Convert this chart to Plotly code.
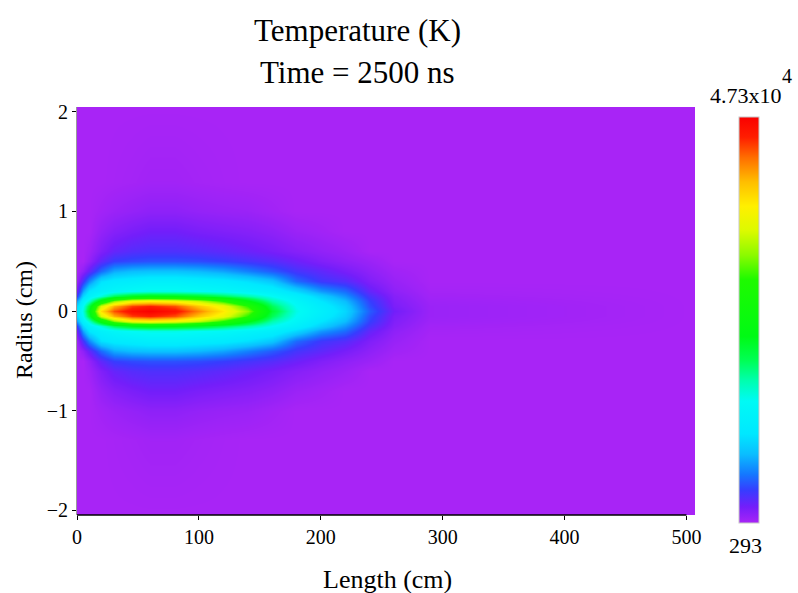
import plotly.graph_objects as go

# Axial stations along the channel (cm)
length_cm = [0, 5, 10, 20, 30, 45, 60, 80, 100, 120, 140, 160, 180, 200, 220, 240, 260, 290, 507]
# Radial stations (cm), upper half; the field is axisymmetric
radius_half_cm = [0, 0.05, 0.1, 0.15, 0.2, 0.3, 0.4, 0.5, 0.6, 0.8, 1.0, 1.3, 2.05]

# Temperature (10^3 K) at each axial station, one row per station, columns follow radius_half_cm
temp_kK = [
    [10.6, 9.7, 7.4, 4.1, 2.2, 0.77, 0.29, 0.29, 0.29, 0.29, 0.29, 0.29, 0.29],   # 0
    [15.3, 14.4, 12.5, 9.7, 7.4, 3.6, 1.2, 0.29, 0.29, 0.29, 0.29, 0.29, 0.29],   # 5
    [21.5, 20.0, 15.8, 12.5, 10.6, 6.4, 2.6, 1.0, 0.6, 0.29, 0.29, 0.29, 0.29],   # 10
    [37.9, 34.1, 23.8, 15.3, 12.5, 10.2, 5.5, 2.8, 1.7, 1.0, 0.53, 0.29, 0.29],   # 20
    [43.5, 40.3, 31.3, 19.1, 13.5, 11.2, 7.6, 4.1, 2.6, 1.5, 0.77, 0.35, 0.29],   # 30
    [46.4, 44.0, 36.0, 21.5, 14.4, 11.6, 8.3, 4.5, 3.1, 1.9, 1.0, 0.43, 0.29],    # 45
    [47.3, 45.0, 37.0, 22.4, 14.9, 12.1, 8.5, 4.7, 3.3, 2.2, 1.2, 0.53, 0.29],    # 60
    [45.9, 43.5, 36.0, 21.9, 14.9, 12.1, 8.5, 4.7, 3.3, 2.2, 1.2, 0.53, 0.29],    # 80
    [41.7, 39.3, 33.2, 21.0, 14.4, 11.6, 8.1, 4.5, 3.1, 1.9, 1.0, 0.43, 0.29],    # 100
    [37.4, 35.6, 28.5, 19.1, 13.9, 11.2, 7.4, 4.1, 2.8, 1.7, 0.86, 0.35, 0.29],   # 120
    [31.3, 28.5, 22.4, 16.8, 13.0, 10.2, 6.2, 3.6, 2.4, 1.5, 0.77, 0.29, 0.29],   # 140
    [20.5, 19.1, 16.8, 14.4, 12.1, 8.8, 5.0, 3.1, 2.0, 1.2, 0.53, 0.29, 0.29],    # 160
    [14.9, 14.4, 13.5, 12.1, 9.7, 5.5, 3.6, 2.4, 1.5, 0.77, 0.29, 0.29, 0.29],    # 180
    [12.1, 11.6, 10.6, 9.2, 7.0, 3.8, 2.8, 1.7, 1.1, 0.53, 0.29, 0.29, 0.29],     # 200
    [9.7, 9.2, 8.3, 6.9, 5.5, 3.1, 2.0, 1.2, 0.77, 0.29, 0.29, 0.29, 0.29],       # 220
    [5.0, 4.5, 4.1, 3.4, 2.6, 1.7, 1.2, 0.77, 0.29, 0.29, 0.29, 0.29, 0.29],      # 240
    [2.2, 1.9, 1.7, 1.5, 1.2, 0.86, 0.58, 0.29, 0.29, 0.29, 0.29, 0.29, 0.29],    # 260
    [0.77, 0.77, 0.67, 0.53, 0.43, 0.29, 0.29, 0.29, 0.29, 0.29, 0.29, 0.29, 0.29],  # 290
    [0.29, 0.29, 0.29, 0.29, 0.29, 0.29, 0.29, 0.29, 0.29, 0.29, 0.29, 0.29, 0.29],  # 507
]

T_MIN = 293
T_MAX = 47300

x_ticks = [0, 100, 200, 300, 400, 500]
y_ticks = [-2, -1, 0, 1, 2]

rainbow = [
    [0.00, "rgb(168,36,246)"],
    [0.04, "rgb(115,30,250)"],
    [0.08, "rgb(55,60,255)"],
    [0.12, "rgb(20,120,255)"],
    [0.17, "rgb(10,190,255)"],
    [0.22, "rgb(0,232,255)"],
    [0.30, "rgb(0,250,245)"],
    [0.35, "rgb(0,255,175)"],
    [0.40, "rgb(0,255,85)"],
    [0.46, "rgb(0,250,20)"],
    [0.60, "rgb(30,250,0)"],
    [0.66, "rgb(140,250,0)"],
    [0.72, "rgb(220,250,0)"],
    [0.78, "rgb(255,240,0)"],
    [0.84, "rgb(255,190,0)"],
    [0.90, "rgb(255,110,0)"],
    [0.95, "rgb(255,30,0)"],
    [1.00, "rgb(250,0,0)"],
]

# Build the full radial grid by mirroring the upper half about the axis
radius_full = [-r for r in reversed(radius_half_cm[1:])] + radius_half_cm
z = []
for j, r in enumerate(radius_full):
    k = abs(len(radius_half_cm) - 1 - j)
    z.append([temp_kK[i][k] * 1000 for i in range(len(length_cm))])

FONT = "Liberation Serif, Times New Roman, serif"

fig = go.Figure(
    go.Heatmap(
        x=length_cm,
        y=radius_full,
        z=z,
        zmin=T_MIN,
        zmax=T_MAX,
        zsmooth="best",
        colorscale=rainbow,
        hoverinfo="skip",
        colorbar=dict(
            x=1.071, xanchor="left", xpad=0,
            y=0.478, yanchor="middle", ypad=0,
            thickness=20,
            len=406, lenmode="pixels",
            outlinecolor="#c8c8c8", outlinewidth=1,
            showticklabels=False, ticks="",
        ),
    )
)

px_w, px_l = 618, 77
px_h, px_b = 408, 78


def paper_x(px):
    return (px - px_l) / px_w


def paper_y(py):
    return (593 - px_b - py) / px_h


annotations = [
    dict(text="Temperature (K)", x=paper_x(357), y=paper_y(30), font=dict(size=31)),
    dict(text="Time = 2500 ns", x=paper_x(357), y=paper_y(72), font=dict(size=31)),
    dict(text="Length (cm)", x=paper_x(387), y=paper_y(579), font=dict(size=26)),
    dict(text="Radius (cm)", x=paper_x(24), y=paper_y(320), font=dict(size=24), textangle=-90),
    dict(text="4.73x10", x=paper_x(746), y=paper_y(95), font=dict(size=22)),
    dict(text="4", x=paper_x(787), y=paper_y(76), font=dict(size=20)),
    dict(text=f"{T_MIN}", x=paper_x(745), y=paper_y(545), font=dict(size=22)),
]
for a in annotations:
    a.update(xref="paper", yref="paper", showarrow=False, xanchor="center", yanchor="middle")
    a["font"].update(family=FONT, color="black")

fig.update_layout(
    width=798,
    height=593,
    margin=dict(l=px_l, r=798 - px_l - px_w, t=593 - px_b - px_h, b=px_b),
    paper_bgcolor="white",
    plot_bgcolor="white",
    font=dict(family=FONT, color="black", size=20),
    annotations=annotations,
    shapes=[
        dict(type="line", xref="x", yref="paper", x0=0, x1=500, y0=0, y1=0,
             line=dict(color="black", width=1.5), layer="above"),
    ],
    xaxis=dict(
        range=[0, 507],
        tickvals=x_ticks,
        ticks="outside", ticklen=4, tickcolor="black", tickwidth=1,
        showgrid=False, zeroline=False, showline=False,
        tickfont=dict(size=20),
    ),
    yaxis=dict(
        range=[-2.05, 2.05],
        tickvals=y_ticks,
        ticks="outside", ticklen=4, tickcolor="black", tickwidth=1,
        showgrid=False, zeroline=False,
        showline=True, linecolor="#9a9a9a", linewidth=1,
        tickfont=dict(size=20),
    ),
)

fig.write_html("out.html")
